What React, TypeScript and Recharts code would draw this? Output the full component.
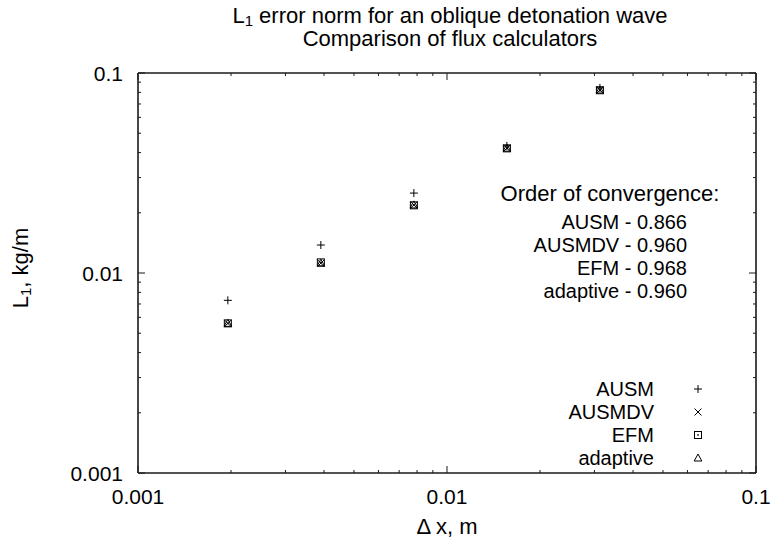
import React from 'react';
import { ScatterChart, Scatter, XAxis, YAxis, Legend } from 'recharts';

// grid spacing dx (m) and L1 error norm (kg/m) per flux calculator
const DX = [0.001953125, 0.00390625, 0.0078125, 0.015625, 0.03125];
const AUSM = [0.0073, 0.0138, 0.0251, 0.0432, 0.0842];
const AUSMDV = [0.0056, 0.0112, 0.0219, 0.0421, 0.0822];
const EFM = [0.0056, 0.0113, 0.0218, 0.0420, 0.0820];
const ADAPTIVE = [0.0056, 0.0112, 0.0219, 0.0421, 0.0822];

const SERIES_NAMES = ['AUSM', 'AUSMDV', 'EFM', 'adaptive'];
const ORDERS = ['0.866', '0.960', '0.968', '0.960'];

const MAJOR_TICKS = [0.001, 0.01, 0.1];
const MAJOR_LABELS = ['0.001', '0.01', '0.1'];
const ALL_TICKS = [
  0.001, 0.002, 0.003, 0.004, 0.005, 0.006, 0.007, 0.008, 0.009,
  0.01, 0.02, 0.03, 0.04, 0.05, 0.06, 0.07, 0.08, 0.09, 0.1,
];

const FONT = '"Liberation Sans", Arial, Helvetica, sans-serif';
const INK = '#000';
const FRAME = '#1a1a1a';
// tickSize + tickMargin passed to every axis; the custom ticks undo it
const GAP = 2;
const ROW = 23;

const toPoints = (ys: number[]) => DX.map((x, i) => ({ x, y: ys[i] }));

const tickLen = (v: number) => (MAJOR_TICKS.includes(v) ? 7 : 3);
const tickLabel = (v: number) => MAJOR_LABELS[MAJOR_TICKS.indexOf(v)];

const BottomTick = ({ x, y, payload }: any) => {
  const v = payload.value;
  const y0 = y - GAP;
  return (
    <g>
      <line x1={x} x2={x} y1={y0} y2={y0 - tickLen(v)} stroke={FRAME} strokeWidth={1} />
      {MAJOR_TICKS.includes(v) && (
        <text x={x} y={y0 + 23} textAnchor="middle" dominantBaseline="central"
          fontFamily={FONT} fontSize={21} fill={INK}>
          {tickLabel(v)}
        </text>
      )}
    </g>
  );
};

const TopTick = ({ x, y, payload }: any) => {
  const y0 = y + GAP;
  return <line x1={x} x2={x} y1={y0} y2={y0 + tickLen(payload.value)} stroke={FRAME} strokeWidth={1} />;
};

const LeftTick = ({ x, y, payload }: any) => {
  const v = payload.value;
  const x0 = x + GAP;
  return (
    <g>
      <line x1={x0} x2={x0 + tickLen(v)} y1={y} y2={y} stroke={FRAME} strokeWidth={1} />
      {MAJOR_TICKS.includes(v) && (
        <text x={x0 - 15} y={y} textAnchor="end" dominantBaseline="central"
          fontFamily={FONT} fontSize={21} fill={INK}>
          {tickLabel(v)}
        </text>
      )}
    </g>
  );
};

const RightTick = ({ x, y, payload }: any) => {
  const x0 = x - GAP;
  return <line x1={x0} x2={x0 - tickLen(payload.value)} y1={y} y2={y} stroke={FRAME} strokeWidth={1} />;
};

// point glyphs, gnuplot style
const Plus = ({ cx, cy }: any) => (
  <path d={`M${cx - 4},${cy}H${cx + 4}M${cx},${cy - 4}V${cy + 4}`} stroke={INK} strokeWidth={1} fill="none" />
);
const Cross = ({ cx, cy }: any) => (
  <path d={`M${cx - 3.5},${cy - 3.5}L${cx + 3.5},${cy + 3.5}M${cx - 3.5},${cy + 3.5}L${cx + 3.5},${cy - 3.5}`}
    stroke={INK} strokeWidth={1} fill="none" />
);
const BoxDot = ({ cx, cy }: any) => (
  <g>
    <rect x={cx - 3.5} y={cy - 3.5} width={7} height={7} stroke={INK} strokeWidth={1} fill="none" />
    <rect x={cx - 0.75} y={cy - 0.75} width={1.5} height={1.5} fill={INK} />
  </g>
);
const Triangle = ({ cx, cy }: any) => (
  <path d={`M${cx},${cy - 4}L${cx + 3.8},${cy + 3}H${cx - 3.8}Z`} stroke={INK} strokeWidth={1} fill="none" />
);

const GLYPHS = [Plus, Cross, BoxDot, Triangle];

const KeyContent = () => (
  <svg width={774} height={540} style={{ position: 'absolute', left: 0, top: 0, pointerEvents: 'none' }}>
    {SERIES_NAMES.map((name, i) => {
      const Glyph = GLYPHS[i];
      const y = 389 + i * ROW;
      return (
        <g key={name}>
          <text x={654} y={y} textAnchor="end" dominantBaseline="central"
            fontFamily={FONT} fontSize={20} fill={INK}>{name}</text>
          <Glyph cx={698} cy={y} />
        </g>
      );
    })}
  </svg>
);

const axisCommon = {
  type: 'number' as const,
  scale: 'log' as const,
  domain: [0.001, 0.1],
  ticks: ALL_TICKS,
  interval: 0 as const,
  allowDataOverflow: true,
  tickLine: false,
  tickSize: 1,
  tickMargin: 1,
  axisLine: { stroke: FRAME, strokeWidth: 1.6 },
};

export default function App() {
  return (
    <div style={{ position: 'absolute', left: 0, top: 0, width: 774, height: 540, background: '#fff' }}>
      <ScatterChart width={774} height={540} margin={{ top: 72, right: 17, bottom: 0, left: 0 }}>
        <XAxis xAxisId="b" dataKey="x" {...axisCommon} height={67} tick={<BottomTick />} />
        <XAxis xAxisId="t" orientation="top" dataKey="x" {...axisCommon} height={1} tick={<TopTick />} />
        <YAxis yAxisId="l" dataKey="y" {...axisCommon} width={138} tick={<LeftTick />} />
        <YAxis yAxisId="r" orientation="right" dataKey="y" {...axisCommon} width={1} tick={<RightTick />} />
        <Scatter name="AUSM" data={toPoints(AUSM)} xAxisId="b" yAxisId="l" shape={<Plus />} isAnimationActive={false} />
        <Scatter name="AUSMDV" data={toPoints(AUSMDV)} xAxisId="b" yAxisId="l" shape={<Cross />} isAnimationActive={false} />
        <Scatter name="EFM" data={toPoints(EFM)} xAxisId="b" yAxisId="l" shape={<BoxDot />} isAnimationActive={false} />
        <Scatter name="adaptive" data={toPoints(ADAPTIVE)} xAxisId="t" yAxisId="r" shape={<Triangle />} isAnimationActive={false} />
        <Legend layout="horizontal" verticalAlign="middle" content={<KeyContent />}
          wrapperStyle={{ position: 'absolute', left: 0, top: 0, width: 774, height: 540 }} />
      </ScatterChart>
      <svg width={774} height={540} style={{ position: 'absolute', left: 0, top: 0, pointerEvents: 'none' }}>
        <g fontFamily={FONT} fontSize={22} fill={INK}>
          <text x={450} y={15} textAnchor="middle" dominantBaseline="central">
            L<tspan fontSize={15} dy={5}>1</tspan><tspan dy={-5}> error norm for an oblique detonation wave</tspan>
          </text>
          <text x={450} y={38} textAnchor="middle" dominantBaseline="central">Comparison of flux calculators</text>
          <text x={447} y={526} textAnchor="middle" dominantBaseline="central">Δ x, m</text>
          <text x={20} y={268} textAnchor="middle" dominantBaseline="central" transform="rotate(-90 20 268)">
            L<tspan fontSize={15} dy={5}>1</tspan><tspan dy={-5}>, kg/m</tspan>
          </text>
          <text x={610} y={193} textAnchor="middle" dominantBaseline="central">Order of convergence:</text>
          {SERIES_NAMES.map((name, i) => (
            <text key={name} x={687} y={222 + i * ROW} textAnchor="end" dominantBaseline="central" fontSize={20}>
              {`${name} - ${ORDERS[i]}`}
            </text>
          ))}
        </g>
      </svg>
    </div>
  );
}
